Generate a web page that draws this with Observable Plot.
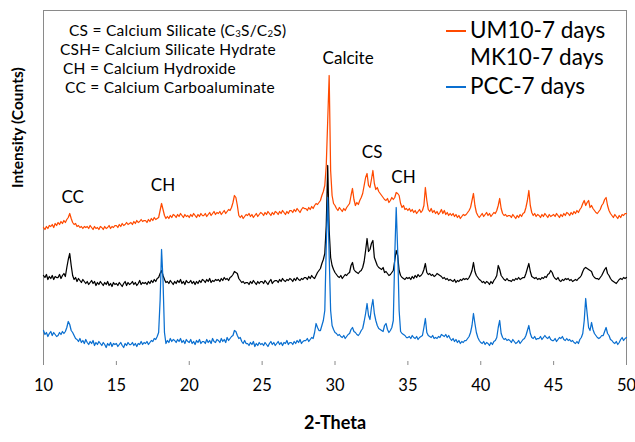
<!DOCTYPE html>
<html><head><meta charset="utf-8">
<script src="https://cdn.jsdelivr.net/npm/d3@7"></script>
<script src="https://cdn.jsdelivr.net/npm/@observablehq/plot@0.6"></script>
<style>
html,body{margin:0;padding:0;background:#fff;}
#wrap{position:relative;width:635px;height:442px;font-family:Lato,"Open Sans",sans-serif;color:#000;}
#wrap svg{position:absolute;left:0;top:0;}
.ov{position:absolute;white-space:nowrap;line-height:1;}
.key{font-size:15.5px;letter-spacing:0.25px;}
.key sub{font-size:0.62em;vertical-align:baseline;position:relative;top:0.2em;line-height:0;}
.leg{font-size:22.5px;}
.sw{display:inline-block;width:20px;height:2px;vertical-align:middle;margin-right:4px;position:relative;top:-1px;}
</style>
</head><body>
<div id="wrap"></div>
<script>
// ---- data (intensity in arbitrary counts, offset per pattern), sampled from 10.0° every 0.1° up to 50.0° ----
const startAngle = 10;
const angleStep = 0.1;
const seriesNames = ["UM10-7 days", "MK10-7 days", "PCC-7 days"];
const seriesColors = ["#ff4a00", "#000000", "#0a6fd0"];
const xTicks = [10, 15, 20, 25, 30, 35, 40, 45, 50];

const um10 = [
138,136,139,137,140,139,141,138,142,140,
143,141,144,142,145,143,146,148,152,147,
143,141,142,139,140,138,139,137,139,138,
139,137,140,138,136,139,137,138,136,139,
138,136,139,137,138,140,137,139,138,140,
140,138,141,139,142,140,141,143,141,142,
143,141,144,142,145,143,144,146,144,145,
145,143,146,144,147,145,148,146,147,148,
155,162,156,150,147,149,147,150,148,151,
150,148,151,149,152,150,148,151,149,150,
148,151,149,152,150,148,151,149,152,150,
150,152,149,151,153,150,152,154,151,153,
152,154,151,153,155,152,154,156,155,158,
163,170,168,160,150,148,150,147,149,151,
150,152,149,151,148,150,152,149,151,153,
152,150,153,151,154,152,150,153,151,154,
153,151,154,152,155,153,151,154,152,155,
155,153,156,154,157,155,153,156,158,157,
157,155,158,156,159,157,160,162,161,163,
165,170,174,180,200,245,290,195,170,162,
160,157,155,158,156,154,157,155,158,160,
162,170,177,166,160,163,161,165,168,172,
180,188,192,180,178,186,195,182,176,178,
174,172,170,168,166,165,167,163,165,168,
166,168,173,172,170,162,158,160,156,157,
155,157,154,156,153,155,152,154,156,153,
155,160,178,165,156,154,157,153,155,152,
154,151,153,156,152,155,151,153,150,152,
150,152,149,151,148,150,147,149,151,150,
151,153,155,158,165,172,160,153,150,148,
150,152,149,151,153,150,152,149,151,153,
152,155,160,167,157,152,150,151,149,150,
150,148,151,149,147,150,148,151,149,152,
153,158,165,175,160,153,150,152,149,151,
150,148,151,149,152,150,148,151,149,150,
151,149,152,150,148,151,149,152,150,153,
152,150,153,151,154,152,155,153,156,158,
162,165,160,163,165,158,160,157,155,153,
152,154,156,160,162,166,168,160,155,152,
150,148,151,149,147,150,148,151,150,152,
152];

const mk10 = [
90,88,91,86,89,87,90,86,89,88,
88,91,87,90,92,89,98,106,112,100,
90,86,88,84,87,85,83,86,84,82,
84,81,83,85,82,84,80,83,81,84,
82,80,83,81,84,80,82,79,83,81,
82,80,83,81,79,82,84,80,83,81,
82,84,81,83,80,82,85,81,83,82,
83,81,84,82,85,83,86,84,87,88,
92,95,90,86,83,84,82,85,83,81,
84,82,85,83,86,82,84,81,85,83,
83,85,82,84,81,84,82,85,83,86,
85,83,86,84,87,83,85,84,86,85,
86,84,87,85,88,86,87,85,88,89,
91,94,93,92,87,85,83,84,82,83,
83,81,84,82,85,83,81,84,82,84,
84,82,85,83,81,84,86,82,84,85,
85,83,86,84,87,85,84,86,85,87,
86,84,87,85,88,86,85,87,86,88,
88,86,89,87,90,88,87,90,93,95,
97,102,106,112,140,200,135,108,100,96,
93,91,89,88,90,87,89,91,90,92,
93,100,103,96,94,93,92,94,95,98,
104,115,127,114,116,122,125,108,104,100,
98,97,96,98,93,94,92,90,91,93,
95,105,115,110,95,90,88,87,86,88,
87,88,86,89,87,90,88,91,89,90,
92,96,102,93,91,92,90,91,89,90,
92,91,90,89,87,88,86,87,85,86,
85,84,86,83,85,84,86,85,87,86,
87,86,88,91,95,103,94,90,88,86,
85,83,84,82,84,83,81,84,82,85,
87,90,100,96,90,88,86,85,87,85,
85,84,86,85,87,86,88,86,87,88,
88,92,97,102,94,89,88,87,88,86,
87,86,88,87,89,88,91,92,95,93,
89,87,86,88,85,84,86,85,87,86,
87,85,86,84,85,86,85,87,88,90,
94,97,98,97,96,95,94,90,88,87,
87,86,88,90,93,96,98,92,90,87,
85,84,83,82,84,86,87,86,88,87,
88];

const pcc = [
35,31,33,29,32,34,30,33,31,29,
30,33,31,34,32,34,38,44,41,35,
33,30,27,26,24,27,23,25,22,26,
23,21,24,22,25,20,23,21,24,22,
20,23,21,18,22,20,23,19,22,21,
22,19,21,23,20,18,22,20,23,21,
21,23,20,22,19,22,21,24,21,23,
22,24,21,23,25,24,27,26,29,33,
65,116,85,33,22,25,23,27,24,26,
25,23,26,24,27,23,25,22,26,24,
23,26,22,24,21,25,23,26,22,24,
24,22,26,23,25,22,27,24,23,26,
25,23,27,24,26,23,28,25,27,29,
30,35,34,30,27,28,24,22,25,22,
22,20,23,21,24,19,22,20,23,21,
22,20,23,21,19,22,24,21,23,20,
22,24,21,23,20,23,22,25,21,23,
23,21,24,22,25,23,26,22,24,25,
25,27,24,26,28,27,33,42,38,35,
35,40,45,55,120,168,110,55,40,36,
33,32,30,31,29,28,30,27,29,31,
32,36,38,34,33,31,30,32,35,37,
44,52,62,50,46,58,66,52,45,40,
37,36,35,34,40,42,36,33,35,38,
45,110,158,115,55,34,32,31,30,28,
28,29,27,30,28,27,29,26,28,29,
30,38,47,33,30,29,28,30,27,28,
27,29,28,31,30,29,31,28,30,27,
25,27,24,26,23,25,22,24,23,25,
25,27,29,33,40,52,42,33,28,25,
23,22,24,21,23,22,20,23,21,24,
25,28,38,45,32,28,26,27,25,26,
25,23,26,24,22,23,25,22,24,26,
27,30,35,40,32,28,27,29,26,27,
27,29,26,28,30,28,27,29,26,25,
25,27,24,26,28,27,29,26,25,27,
25,26,24,25,23,22,24,22,26,28,
32,45,67,52,38,35,43,36,32,30,
28,27,28,30,30,34,38,32,30,26,
25,23,22,24,21,23,26,28,25,27,
28];

// peak annotations
const peakLabels = ["CC", "CH", "Calcite", "CS", "CH"];
const peakAngles = [12.0, 18.2, 30.9, 32.55, 34.7];
const peakIntensity = [168, 180, 307, 213, 188];

const keyLines = [
  "CS = Calcium Silicate (C<sub>3</sub>S/C<sub>2</sub>S)",
  "CSH= Calcium Silicate Hydrate",
  "CH = Calcium Hydroxide",
  "CC = Calcium Carboaluminate"
];

// ---- build table ----
const allSeries = [um10, mk10, pcc];
const rows = [];
allSeries.forEach((vals, s) => {
  vals.forEach((v, i) => rows.push({
    series: seriesNames[s],
    angle: +(startAngle + i * angleStep).toFixed(2),
    intensity: v
  }));
});
const labels = peakLabels.map((t, i) => ({text: t, angle: peakAngles[i], intensity: peakIntensity[i]}));

const frameGray = "#8a8a8a";
const chart = Plot.plot({
  width: 635,
  height: 442,
  marginLeft: 43,
  marginRight: 9,
  marginTop: 10,
  marginBottom: 77,
  style: {fontFamily: "Lato, 'Open Sans', sans-serif", color: "#000", background: "#fff"},
  x: {domain: [10, 50]},
  y: {domain: [0, 355], axis: null},
  color: {domain: seriesNames, range: seriesColors},
  marks: [
    Plot.ruleX([10, 50], {stroke: frameGray}),
    Plot.ruleY([355], {stroke: frameGray}),
    Plot.axisX({ticks: xTicks, tickSize: 4, dy: -4, tickFormat: () => "", label: null, stroke: frameGray}),
    Plot.axisX({ticks: xTicks, tickSize: 0, tickPadding: 14, fontSize: 16.5, label: null, fill: "#000"}),
    Plot.line(rows, {x: "angle", y: "intensity", z: "series", stroke: "series", strokeWidth: 1.25}),
    Plot.text(labels, {x: "angle", y: "intensity", text: "text", fontSize: 17, fill: "#000"}),
    Plot.text(["2-Theta"], {frameAnchor: "bottom", dy: 63, text: d => d, fontSize: 18, fontWeight: "bold", fill: "#000"}),
    Plot.text(["Intensity (Counts)"], {frameAnchor: "left", dx: -25, rotate: -90, text: d => d, fontSize: 15.5, fontWeight: "bold", fill: "#000"})
  ]
});
const wrap = document.getElementById("wrap");
wrap.appendChild(chart);

// key box text
const keyLeft = [69, 60, 63, 65];
const keyCenter = [30.5, 49.5, 68.5, 87.5];
keyLines.forEach((h, i) => {
  const d = document.createElement("div");
  d.className = "ov key";
  d.innerHTML = h;
  d.style.left = keyLeft[i] + "px";
  d.style.top = (keyCenter[i] - 8) + "px";
  wrap.appendChild(d);
});
// legend
const legCenter = [31, 58, 87];
const legSwatch = [true, false, true];
seriesNames.forEach((n, i) => {
  const d = document.createElement("div");
  d.className = "ov leg";
  d.style.left = "446px";
  d.style.top = (legCenter[i] - 12) + "px";
  const sw = document.createElement("span");
  sw.className = "sw";
  sw.style.background = legSwatch[i] ? seriesColors[i] : "transparent";
  d.appendChild(sw);
  d.appendChild(document.createTextNode(n));
  wrap.appendChild(d);
});
</script>
</body></html>
